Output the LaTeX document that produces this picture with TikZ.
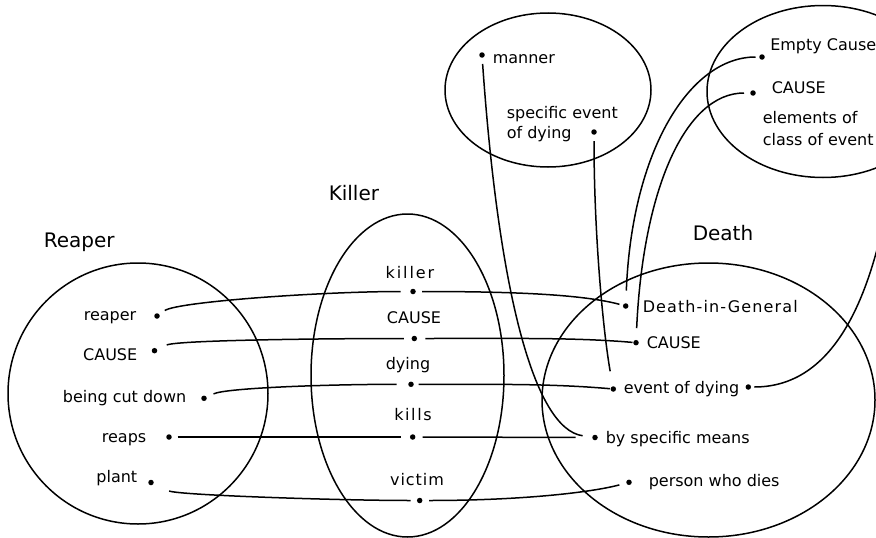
\documentclass[tikz,border=0pt]{standalone}
\usepackage{fontspec}
\setmainfont{DejaVu Sans}
\begin{document}
\begin{tikzpicture}[x=1pt,y=-1pt,line width=1.5pt,
  dot/.style={circle,fill=black,inner sep=0pt,minimum size=5.5pt},
  lab/.style={inner sep=0pt,font=\fontsize{16}{19}\selectfont},
  ttl/.style={inner sep=0pt,font=\fontsize{20}{24}\selectfont}]
\useasboundingbox (0,0) rectangle (876,538);
\clip (0,0) rectangle (876,538);
% sets
\draw (138,393.5) ellipse [x radius=130pt, y radius=130.5pt];
\draw (407.5,375.5) ellipse [x radius=96.5pt, y radius=161.5pt];
\draw (708.5,400) ellipse [x radius=166.5pt, y radius=137pt];
\draw (548,90) ellipse [x radius=103pt, y radius=77pt];
\draw (823,91.5) ellipse [x radius=116pt, y radius=86pt];
% titles
\node[ttl,anchor=base west] (tR) at (43,247) {Reaper};
\node[ttl,anchor=base west] (tK) at (328,200) {Killer};
\node[ttl,anchor=base west] (tD) at (692,240) {Death};
% dots
\node[dot] (rR) at (157,316) {};
\node[dot] (rC) at (154.5,350.7) {};
\node[dot] (rB) at (204,398.3) {};
\node[dot] (rS) at (169,437) {};
\node[dot] (rP) at (151,482.5) {};
\node[dot] (kK) at (413,291.5) {};
\node[dot] (kC) at (414.3,338.5) {};
\node[dot] (kD) at (411,384.3) {};
\node[dot] (kS) at (412.7,437) {};
\node[dot] (kV) at (419.7,500.5) {};
\node[dot] (dG) at (625.7,306) {};
\node[dot] (dC) at (636,342.7) {};
\node[dot] (dE) at (613.3,389) {};
\node[dot] (dE2) at (748.3,387) {};
\node[dot] (dM) at (595,437.5) {};
\node[dot] (dP) at (629,482.3) {};
\node[dot] (mM) at (482,55) {};
\node[dot] (mS) at (594,132) {};
\node[dot] (eE) at (762,57) {};
\node[dot] (eC) at (753,93) {};
\coordinate (ecEnd) at (890,190);
% labels
\node[lab,anchor=base east] (lrR) at (137,320) {reaper};
\node[lab,anchor=base east] (lrC) at (138,360) {CAUSE};
\node[lab,anchor=base east] (lrB) at (187,402) {being cut down};
\node[lab,anchor=base east] (lrS) at (147,442) {reaps};
\node[lab,anchor=base east] (lrP) at (138,482) {plant};
\node[lab,anchor=base] (lkK) at (410,278) {\addfontfeature{LetterSpace=12}killer};
\node[lab,anchor=base] (lkC) at (414,323) {CAUSE};
\node[lab,anchor=base] (lkD) at (408,369) {dying};
\node[lab,anchor=base] (lkS) at (413,420) {\addfontfeature{LetterSpace=10}kills};
\node[lab,anchor=base] (lkV) at (417,485) {\addfontfeature{LetterSpace=6}victim};
\node[lab,anchor=base west] (ldG) at (642,312) {\addfontfeature{LetterSpace=7}Death-in-General};
\node[lab,anchor=base west] (ldC) at (646,348) {CAUSE};
\node[lab,anchor=base west] (ldE) at (623,393) {event of dying};
\node[lab,anchor=base west] (ldM) at (605,443) {by specific means};
\node[lab,anchor=base west] (ldP) at (648,486) {person who dies};
\node[lab,anchor=base west] (lmM) at (492,63) {manner};
\node[lab,anchor=base west] (lmS1) at (506,118) {specific event};
\node[lab,anchor=base west] (lmS2) at (506,138) {of dying};
\node[lab,anchor=base west] (leE) at (769.5,50) {Empty Cause};
\node[lab,anchor=base west] (leC) at (771,93) {CAUSE};
\node[lab,anchor=base west] (leX1) at (762,123) {elements of};
\node[lab,anchor=base west] (leX2) at (762,145) {class of event};
% connectors Reaper -> Killer -> Death
\draw[shorten <=6pt,shorten >=9pt] (rR) .. controls +(-35:25) and +(180:90) .. (kK);
\draw[shorten <=5.5pt,shorten >=3pt] (kK) .. controls +(0:100) and +(-165:45) .. (dG);
\draw[shorten <=10pt,shorten >=7pt] (rC) .. controls +(-25:25) and +(180:90) .. (kC);
\draw[shorten <=7.5pt] (kC) .. controls +(0:100) and +(-175:60) .. (dC);
\draw[shorten <=7pt,shorten >=11pt] (rB) .. controls +(-25:25) and +(180:80) .. (kD);
\draw[shorten <=4pt] (kD) .. controls +(0:90) and +(-175:60) .. (dE);
\draw[shorten <=5pt,shorten >=8.5pt] (rS) -- (kS);
\draw[shorten <=6.5pt,shorten >=16pt] (kS) -- (dM);
\draw[shorten <=16.5pt,shorten >=5.5pt] (rP) .. controls +(25:30) and +(180:80) .. (kV);
\draw[shorten <=6pt,shorten >=6.5pt] (kV) .. controls +(0:100) and +(165:40) .. (dP);
% connectors from the upper sets
\draw[shorten <=5.5pt,shorten >=9pt] (mM) .. controls +(86:235) and +(-172:62) .. (dM);
\draw[shorten <=5.5pt,shorten >=14.5pt] (mS) .. controls +(90:100) and +(-100:60) .. (dE);
\draw[shorten <=3pt,shorten >=12pt] (eE) .. controls +(180:72) and +(-87.7:156) .. (dG);
\draw[shorten <=5.5pt,shorten >=11pt] (eC) .. controls +(180:68) and +(-87.4:153) .. (dC);
\draw[shorten <=2.5pt] (dE2) .. controls +(0:93) and +(100:93) .. (ecEnd);
\end{tikzpicture}
\end{document}
